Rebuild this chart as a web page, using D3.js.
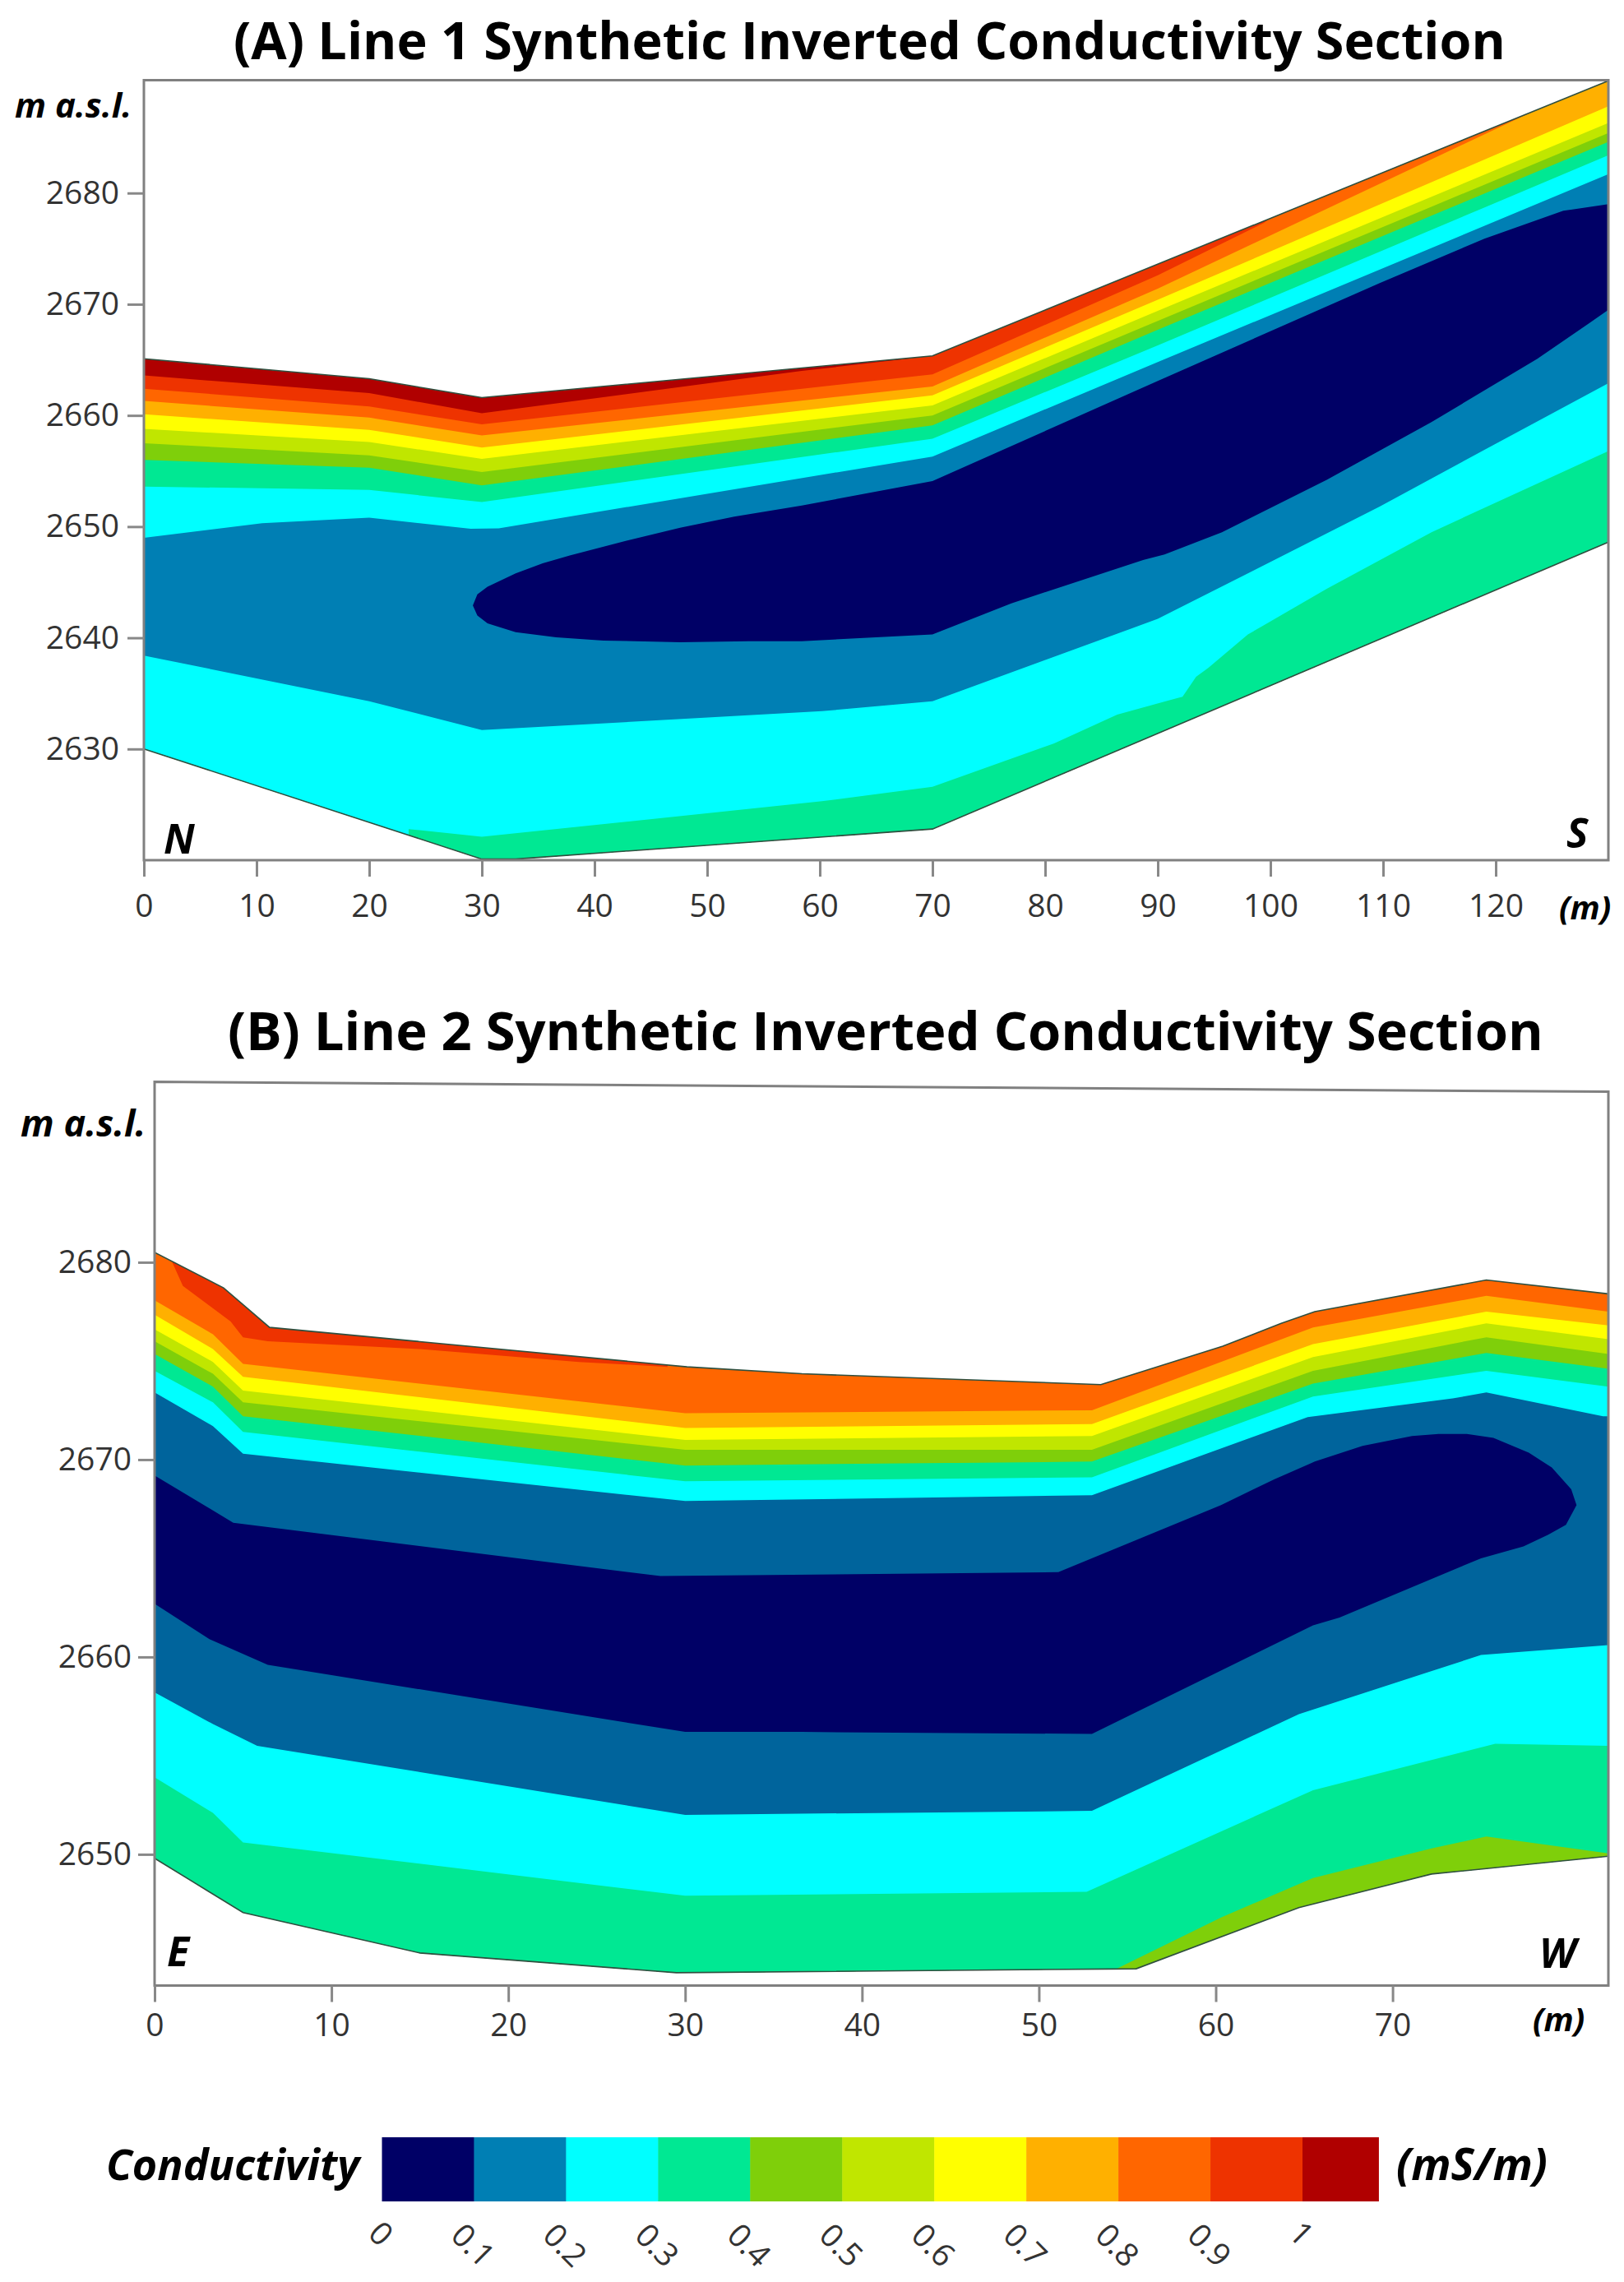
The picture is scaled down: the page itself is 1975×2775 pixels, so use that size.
<!DOCTYPE html>
<html>
<head>
<meta charset="utf-8">
<script src="https://cdn.jsdelivr.net/npm/d3@7"></script>
<style>
  body { margin: 0; background: #fff; }
  text { font-family: "Open Sans", sans-serif; }
  .tick text { fill: #333; font-size: 39px; }
  .tick line { stroke: #888; stroke-width: 3; }
  .title { font-weight: 700; fill: #000; }
  .note { font-weight: 700; font-style: italic; fill: #000; }
</style>
</head>
<body>
<svg id="chart" width="1975" height="2775"></svg>
<script>
// Conductivity classes, low to high
const legendColors = ['#000066', '#007fb4', '#00ffff', '#00e893', '#7fcf0a', '#c0e600', '#ffff00', '#ffb000', '#ff6600', '#ee3300', '#b00000'];
const legendLabels = ['0', '0.1', '0.2', '0.3', '0.4', '0.5', '0.6', '0.7', '0.8', '0.9', '1'];
const legendEnd = 1.083;
const blueB = '#00649c';

// Line 1: all values are [distance m, elevation m a.s.l.]
const xTicksA = [0, 10, 20, 30, 40, 50, 60, 70, 80, 90, 100, 110, 120];
const yTicksA = [2630, 2640, 2650, 2660, 2670, 2680];
const surfaceA = [[0, 2665.1], [20, 2663.3], [30, 2661.6], [70, 2665.35], [130, 2690.1]];
const baseA = [[0, 2630], [30, 2620.1], [33, 2620.1], [70, 2622.8], [130, 2648.6]];
const redA = [[0, 2663.6], [20, 2662], [30, 2660.2], [58.4, 2664], [70, 2665.35], [130, 2700]];
const orangeRedA = [[0, 2662.4], [20, 2660.8], [30, 2659.2], [70, 2663.7], [90, 2672.6], [99.4, 2677.3], [130, 2700]];
const orangeA = [[0, 2661.3], [20, 2659.8], [30, 2658.2], [70, 2662.6], [90, 2671.4], [123, 2687.2], [130, 2700]];
const yellowA = [[0, 2660.1], [20, 2658.7], [30, 2657.1], [70, 2661.8], [90, 2670.4], [130, 2687.8]];
const yellowGreenA = [[0, 2658.8], [20, 2657.6], [30, 2656.1], [70, 2660.9], [90, 2669.4], [130, 2686.3]];
const greenA = [[0, 2657.5], [20, 2656.4], [30, 2654.9], [70, 2660], [90, 2668.5], [130, 2685.4]];
const seaA = [[0, 2656], [20, 2655.3], [30, 2653.7], [70, 2659.1], [90, 2667.7], [130, 2684.6]];
const cyanA = [[0, 2653.6], [20, 2653.3], [30, 2652.2], [70, 2657.9], [90, 2666.3], [130, 2683.4]];
const blueA = [[0, 2649], [10.5, 2650.3], [20, 2650.8], [29, 2649.8], [31.5, 2649.85], [70, 2656.3], [90, 2664.8], [130, 2681.7]];
const navyA = [[29.2, 2642.9], [29.6, 2643.9], [30.5, 2644.6], [33, 2645.8], [35.4, 2646.7], [37.8, 2647.4], [42.7, 2648.7], [47.6, 2649.9], [52.4, 2650.9], [58.4, 2651.9], [70, 2654.1], [90, 2663.1], [109.7, 2671.9], [119, 2675.9], [126, 2678.4], [130, 2679],
  [130, 2669.5], [128.3, 2668.3], [123.7, 2665.1], [114.3, 2659.4], [105, 2654.2], [95.7, 2649.5], [90.6, 2647.5], [88.7, 2647], [77, 2643.1], [70, 2640.3], [58.4, 2639.7], [53.7, 2639.7], [47.6, 2639.6], [40.8, 2639.75], [36.6, 2640.05], [33, 2640.5], [30.5, 2641.3], [29.6, 2642]];
const cyanLowA = [[0, 2638.4], [20, 2634.3], [30, 2631.7], [60.2, 2633.4], [70, 2634.3], [90, 2641.7], [109.7, 2651.8], [119, 2656.9], [130, 2662.9]];
const seaLowA = [[23.5, 2622.8], [30, 2622.1], [60.2, 2625.3], [70, 2626.6], [80.8, 2630.5], [86.4, 2633.1], [91.1, 2634.4], [92.2, 2634.7], [93.4, 2636.5], [94.5, 2637.3], [98, 2640.3], [105, 2644.4], [114.3, 2649.5], [130, 2656.8]];

// Line 2
const xTicksB = [0, 10, 20, 30, 40, 50, 60, 70];
const yTicksB = [2650, 2660, 2670, 2680];
const surfaceB = [[0, 2680.5], [3.9, 2678.7], [6.5, 2676.7], [30.1, 2674.7], [36.6, 2674.35], [53.5, 2673.8], [60.4, 2675.75], [63.7, 2676.9], [65.6, 2677.5], [75.3, 2679.1], [82.2, 2678.4]];
const baseB = [[0, 2649.8], [5, 2647.05], [15, 2645], [29.5, 2644], [55.5, 2644.2], [64.7, 2647.3], [72.2, 2649], [82.2, 2649.9]];
const redB = [[1, 2680], [1.6, 2678.8], [3.1, 2677.8], [4.3, 2677], [5, 2676.2], [6.4, 2676], [15, 2675.6], [24, 2674.95], [29, 2674.7], [29, 2685], [1, 2685]];
const orangeB = [[0, 2678.07], [3.3, 2676.35], [5, 2674.85], [30, 2672.35], [53, 2672.5], [65.5, 2676.7], [75.3, 2678.3], [82.2, 2677.5]];
const yellowB = [[0, 2677.34], [3.3, 2675.6], [5, 2674.2], [30, 2671.6], [53, 2671.8], [65.5, 2675.85], [75.3, 2677.5], [82.2, 2676.8]];
const yellowGreenB = [[0, 2676.6], [3.3, 2674.95], [5, 2673.5], [30, 2671], [53, 2671.2], [65.5, 2675.2], [75.3, 2676.9], [82.2, 2676.1]];
const greenB = [[0, 2676], [3.3, 2674.35], [5, 2672.9], [30, 2670.5], [53, 2670.5], [65.5, 2674.5], [75.3, 2676.2], [82.2, 2675.35]];
const seaB = [[0, 2675.35], [3.3, 2673.7], [5, 2672.2], [30, 2669.7], [53, 2669.9], [65.5, 2673.85], [75.3, 2675.4], [82.2, 2674.6]];
const cyanB = [[0, 2674.5], [3.3, 2672.9], [5, 2671.4], [30, 2668.9], [53, 2669.1], [65.5, 2673.2], [75.3, 2674.5], [82.2, 2673.7]];
const blueBLine = [[0, 2673.4], [3.3, 2671.7], [5, 2670.3], [30, 2667.9], [53, 2668.2], [65.2, 2672.15], [73.4, 2673.1], [75.3, 2673.4], [81.9, 2672.2], [82.2, 2672.2]];
const navyB = [[0, 2669.2], [4.45, 2666.8], [28.6, 2664.1], [51.1, 2664.3], [60.3, 2667.7], [63.3, 2669], [65.6, 2669.9], [68.3, 2670.7], [71.1, 2671.2], [72.6, 2671.3], [74.2, 2671.3], [75.7, 2671.1], [77.7, 2670.35], [79, 2669.6], [80.1, 2668.5], [80.4, 2667.7], [79.8, 2666.7], [78.8, 2666.2], [77.4, 2665.6],
  [75, 2665], [67, 2662], [65.5, 2661.6], [53, 2656.1], [36.6, 2656.2], [30, 2656.2], [6.4, 2659.6], [3.1, 2660.9], [0, 2662.7]];
const cyanLowB = [[0, 2658.2], [3.3, 2656.6], [5.8, 2655.5], [30, 2652], [53, 2652.2], [64.7, 2657.1], [75, 2660.1], [82.2, 2660.6]];
const seaLowB = [[0, 2653.9], [3.3, 2652.1], [5, 2650.6], [30, 2647.9], [52.7, 2648.1], [65.5, 2653.25], [75.8, 2655.6], [82.2, 2655.5]];
const greenLowB = [[54.4, 2644.2], [60.3, 2646.8], [65.5, 2648.8], [72.2, 2650.3], [75.3, 2650.9], [82.2, 2650.05]];

const svg = d3.select('#chart');
const c = legendColors;

function drawSection(cfg) {
  const x = d3.scaleLinear().domain(cfg.xDomain).range(cfg.xRange);
  const y = d3.scaleLinear().domain(cfg.yDomain).range(cfg.yRange);
  const line = d3.line().x(d => x(d[0])).y(d => y(d[1]));
  const bottom = cfg.yDomain[0] - 20;

  const g = svg.append('g');
  g.append('clipPath').attr('id', cfg.id)
    .append('path').attr('d', line(cfg.surface.concat(cfg.base.slice().reverse())) + 'Z');

  const bands = g.append('g').attr('clip-path', `url(#${cfg.id})`);
  bands.append('path').attr('d', line(cfg.surface.concat(cfg.base.slice().reverse())) + 'Z').attr('fill', cfg.baseColor);

  // each boundary paints its class down to below the section, later ones cover earlier ones
  cfg.layers.forEach(l => {
    const pts = l.closed ? l.pts : [[l.pts[0][0], bottom], ...l.pts, [l.pts[l.pts.length - 1][0], bottom]];
    bands.append('path').attr('d', line(pts) + 'Z').attr('fill', l.color);
  });

  [cfg.surface, cfg.base].forEach(edge => {
    g.append('path').attr('d', line(edge)).attr('fill', 'none')
      .attr('stroke', '#2f4f3f').attr('stroke-width', 1.6);
  });

  // frame
  g.append('path').attr('d', line(cfg.frame) + 'Z')
    .attr('fill', 'none').attr('stroke', '#808080').attr('stroke-width', 3);

  const xAxis = d3.axisBottom(x).tickValues(cfg.xTicks).tickSize(20).tickPadding(cfg.xPad).tickFormat(d3.format('d'));
  const yAxis = d3.axisLeft(y).tickValues(cfg.yTicks).tickSize(20).tickPadding(cfg.yPad).tickFormat(d3.format('d'));
  g.append('g').attr('transform', `translate(0,${cfg.yRange[0]})`).call(xAxis).call(a => a.select('.domain').remove());
  g.append('g').attr('transform', `translate(${cfg.xRange[0]},0)`).call(yAxis).call(a => a.select('.domain').remove());

  g.selectAll('.tick text').attr('font-size', null).attr('font-family', null);

  cfg.notes.forEach(n => {
    g.append('text').attr('class', 'note').attr('x', n[0]).attr('y', n[1]).attr('font-size', n[2]).text(n[3]);
  });
  svg.append('text').attr('class', 'title').attr('x', cfg.title[0]).attr('y', cfg.title[1])
    .attr('font-size', cfg.title[2]).text(cfg.title[3]);
}

drawSection({
  id: 'clip-a',
  xDomain: [0, 130], xRange: [175, 1956],
  yDomain: [2620, 2690.15], yRange: [1046, 97.5],
  xTicks: xTicksA, yTicks: yTicksA, xPad: 21, yPad: 10,
  surface: surfaceA, base: baseA, baseColor: c[10],
  frame: [[0, 2690.15], [130, 2690.15], [130, 2620], [0, 2620]],
  layers: [
    { color: c[9], pts: redA }, { color: c[8], pts: orangeRedA }, { color: c[7], pts: orangeA },
    { color: c[6], pts: yellowA }, { color: c[5], pts: yellowGreenA }, { color: c[4], pts: greenA },
    { color: c[3], pts: seaA }, { color: c[2], pts: cyanA }, { color: c[1], pts: blueA },
    { color: c[0], pts: navyA, closed: true },
    { color: c[2], pts: cyanLowA }, { color: c[3], pts: seaLowA }
  ],
  notes: [[18, 143, 42, 'm a.s.l.'], [199, 1038, 50, 'N'], [1905, 1031, 50, 'S'], [1896, 1118, 40, '(m)']],
  title: [284, 72, 62.9, '(A) Line 1 Synthetic Inverted Conductivity Section']
});

drawSection({
  id: 'clip-b',
  xDomain: [0, 82.2], xRange: [188, 1956],
  yDomain: [2643.35, 2689.14], yRange: [2414.5, 1315.6],
  xTicks: xTicksB, yTicks: yTicksB, xPad: 14, yPad: 8,
  surface: surfaceB, base: baseB, baseColor: c[8],
  frame: [[0, 2689.14], [82.2, 2688.64], [82.2, 2643.35], [0, 2643.35]],
  layers: [
    { color: c[9], pts: redB, closed: true }, { color: c[7], pts: orangeB }, { color: c[6], pts: yellowB },
    { color: c[5], pts: yellowGreenB }, { color: c[4], pts: greenB }, { color: c[3], pts: seaB },
    { color: c[2], pts: cyanB }, { color: blueB, pts: blueBLine },
    { color: c[0], pts: navyB, closed: true },
    { color: c[2], pts: cyanLowB }, { color: c[3], pts: seaLowB }, { color: c[4], pts: greenLowB }
  ],
  notes: [[25, 1382, 45, 'm a.s.l.'], [203, 2391, 50, 'E'], [1872, 2393, 50, 'W'], [1864, 2470, 40, '(m)']],
  title: [277, 1277, 65.1, '(B) Line 2 Synthetic Inverted Conductivity Section']
});

// colour bar: each box starts at its label value, the last one stops early
const legendX = d3.scaleLinear().domain([0, 1]).range([464.5, 1584]);
const legend = svg.append('g');
legend.selectAll('rect').data(legendLabels).enter().append('rect')
  .attr('x', d => legendX(+d)).attr('y', 2599)
  .attr('width', (d, i) => legendX(i < legendLabels.length - 1 ? +legendLabels[i + 1] : legendEnd) - legendX(+d) + (i < legendLabels.length - 1 ? 0.5 : 0))
  .attr('height', 78)
  .attr('fill', (d, i) => legendColors[i]);
legend.selectAll('text.lab').data(legendLabels).enter().append('text')
  .attr('class', 'lab')
  .attr('transform', d => `translate(${legendX(+d) - 1},${d.length > 1 ? 2730 : 2716}) rotate(45)`)
  .attr('font-size', 39).attr('fill', '#333')
  .attr('text-anchor', 'middle').attr('dy', '0.36em')
  .text(d => d);
legend.append('text').attr('class', 'note').attr('x', 129).attr('y', 2651).attr('font-size', 52).text('Conductivity');
legend.append('text').attr('class', 'note').attr('x', 1698).attr('y', 2651).attr('font-size', 53.5).text('(mS/m)');
</script>
</body>
</html>
